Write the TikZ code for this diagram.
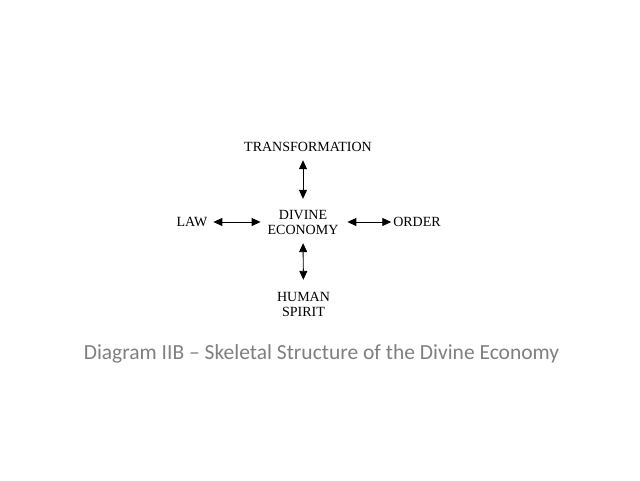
\documentclass[tikz,border=0pt]{standalone}
\usepackage{fontspec}
\setmainfont{Liberation Serif}
\newfontfamily\capfont{Carlito}
\usetikzlibrary{arrows.meta,positioning}
\definecolor{capgray}{RGB}{127,127,127}
\begin{document}
\begin{tikzpicture}[
  x=1pt, y=-1pt,
  font=\fontsize{14}{15}\selectfont,
  t/.style={inner sep=0pt,outer sep=0pt,align=center},
  a/.style={{Triangle[length=9pt,width=8pt]}-{Triangle[length=9pt,width=8pt]},line width=0.9pt}]
\useasboundingbox (0,0) rectangle (640,480);
\node[t] (trans) at (308,146.5) {TRANSFORMATION};
\node[t] (eco) at (303,222) {DIVINE\\ECONOMY};
\node[t] (law) at (192,222) {LAW};
\node[t] (order) at (417,222) {ORDER};
\node[t] (human) at (303.5,304.5) {HUMAN\\SPIRIT};
\node[t,font=\capfont\fontsize{21.5}{24}\selectfont,text=capgray] (cap) at (321.5,353.5)
  {Diagram IIB – Skeletal Structure of the Divine Economy};
\draw[a,shorten <=9pt,shorten >=11pt] ([xshift=-5pt]trans.south) -- (eco.north);
\draw[a,shorten <=9pt,shorten >=12.5pt] (eco.south) -- (human.north);
\draw[a,shorten <=6pt,shorten >=7pt] (law.east) -- (eco.west);
\draw[a,shorten <=9pt,shorten >=2pt] (eco.east) -- (order.west);
\end{tikzpicture}
\end{document}
